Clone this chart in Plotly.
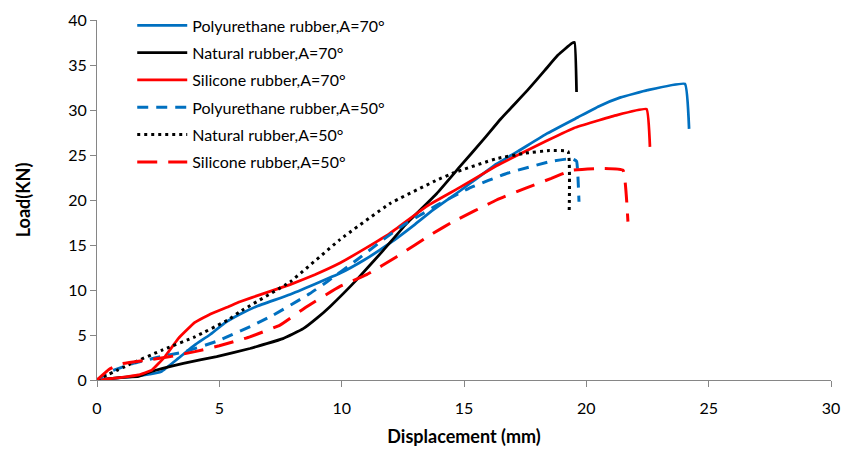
import plotly.graph_objects as go

# ---- data ----
pu70_x = [0, 1.0, 1.96, 2.64, 3.32, 4.0, 4.6, 5.2, 5.84, 6.54, 7.89, 9.93, 10.9, 11.97, 13.0, 13.74, 14.83, 16.33, 17.2, 18.4, 19.66, 20.5, 21.4, 22.5, 24.03, 24.2]
pu70_y = [0, 0.25, 0.56, 0.95, 2.4, 3.9, 5.0, 6.3, 7.3, 8.2, 9.5, 11.85, 13.3, 15.2, 17.3, 18.9, 21.0, 24.0, 25.4, 27.4, 29.2, 30.4, 31.4, 32.2, 32.9, 27.9]

nr70_x = [0, 1.0, 1.7, 2.17, 3.53, 4.89, 6.25, 7.6, 8.43, 9.0, 9.52, 10.6, 11.7, 12.66, 13.88, 14.83, 15.79, 16.5, 17.6, 18.3, 18.84, 19.4, 19.52, 19.6]
nr70_y = [0, 0.3, 0.4, 0.9, 1.85, 2.6, 3.5, 4.6, 5.7, 6.9, 8.15, 11.1, 14.4, 17.4, 20.7, 23.7, 26.7, 29.0, 32.2, 34.4, 36.1, 37.4, 37.5, 32.0]

si70_x = [0, 0.74, 1.69, 2.24, 2.78, 3.32, 4.0, 4.69, 5.37, 5.84, 6.8, 7.89, 8.9, 9.93, 10.95, 11.97, 13.47, 14.83, 16.33, 17.2, 18.4, 19.5, 21.2, 22.46, 22.6]
si70_y = [0, 0.2, 0.56, 1.1, 2.6, 4.6, 6.4, 7.4, 8.15, 8.7, 9.6, 10.6, 11.7, 13.0, 14.6, 16.3, 19.3, 21.4, 23.8, 25.0, 26.6, 28.0, 29.4, 30.1, 25.9]

pu50_x = [0, 0.53, 1.48, 2.45, 3.53, 4.89, 6.39, 7.2, 8.7, 9.39, 10.6, 11.7, 12.52, 13.2, 13.88, 15.2, 16.8, 18.57, 19.4, 19.6, 19.7]
pu50_y = [0, 0.93, 1.85, 2.5, 3.1, 4.3, 6.1, 7.2, 9.6, 10.9, 13.3, 15.6, 17.2, 18.3, 19.4, 21.3, 23.0, 24.3, 24.6, 24.3, 19.8]

nr50_x = [0, 1.28, 2.64, 4.0, 5.37, 5.84, 7.89, 9.93, 11.97, 13.88, 14.56, 16.33, 17.5, 18.5, 19.25, 19.3]
nr50_y = [0, 1.67, 3.3, 4.8, 6.7, 7.6, 10.9, 15.6, 19.6, 22.2, 23.0, 24.6, 25.2, 25.5, 25.4, 18.9]

si50_x = [0, 0.5, 1.0, 2.0, 3.0, 4.0, 5.0, 6.25, 7.48, 8.57, 9.93, 11.02, 12.25, 13.74, 14.56, 16.33, 17.5, 18.57, 19.4, 20.6, 21.5, 21.7]
si50_y = [0, 1.2, 1.8, 2.2, 2.6, 3.15, 3.8, 4.8, 6.1, 8.15, 10.4, 11.7, 13.7, 16.3, 17.6, 20.0, 21.3, 22.4, 23.3, 23.5, 23.3, 17.6]

names = ["Polyurethane rubber,A=70°", "Natural rubber,A=70°", "Silicone rubber,A=70°",
         "Polyurethane rubber,A=50°", "Natural rubber,A=50°", "Silicone rubber,A=50°"]

x_ticks = [0, 5, 10, 15, 20, 25, 30]
y_ticks = [0, 5, 10, 15, 20, 25, 30, 35, 40]

BLUE = "#0070C0"
RED = "#FF0000"
BLACK = "#000000"

series = [
    (pu70_x, pu70_y, dict(color=BLUE, width=2.75)),
    (nr70_x, nr70_y, dict(color=BLACK, width=2.75)),
    (si70_x, si70_y, dict(color=RED, width=2.75)),
    (pu50_x, pu50_y, dict(color=BLUE, width=3, dash="11px,8px")),
    (nr50_x, nr50_y, dict(color=BLACK, width=3, dash="3px,4px")),
    (si50_x, si50_y, dict(color=RED, width=3, dash="20px,11px")),
]

fig = go.Figure()
for i, ((xs, ys, ln), nm) in enumerate(zip(series, names)):
    ln = dict(ln, shape="spline", smoothing=0.3)
    fig.add_trace(go.Scatter(x=xs, y=ys, mode="lines", name=nm, line=ln, legendgroup=f"g{i}"))

FONT = "Lato"
axis_common = dict(
    showline=True, linecolor="#868686", linewidth=1,
    ticks="outside", ticklen=6, tickcolor="#868686", tickwidth=1,
    showgrid=False, zeroline=False, automargin=False,
    tickfont=dict(family=FONT, size=16, color="#000000"),
)

fig.update_layout(
    width=854, height=451,
    margin=dict(l=97, r=23, t=20, b=71, autoexpand=False),
    paper_bgcolor="white", plot_bgcolor="white",
    font=dict(family=FONT, color="#000000"),
    xaxis=dict(range=[0, 30], tickvals=x_ticks, ticklabelstandoff=8,
               title=dict(text="<b>Displacement (mm)</b>", font=dict(family=FONT, size=18), standoff=14),
               **axis_common),
    yaxis=dict(range=[0, 40], tickvals=y_ticks,
               title=dict(text="<b>Load(KN)</b>", font=dict(family=FONT, size=18), standoff=32),
               **axis_common),
    legend=dict(x=0.048, y=1.032, xanchor="left", yanchor="top",
                font=dict(family=FONT, size=16, color="#000000"),
                bgcolor="rgba(0,0,0,0)", itemwidth=50,
                traceorder="grouped", tracegroupgap=3.5),
    showlegend=True,
)

fig.write_html("out.html")
